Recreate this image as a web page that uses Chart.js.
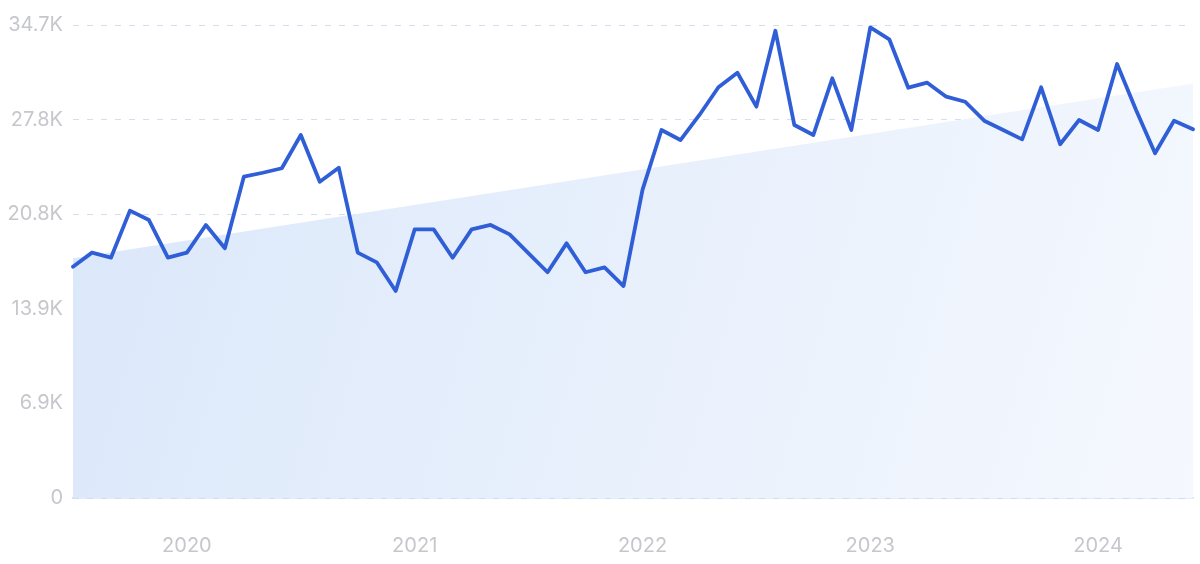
<!DOCTYPE html>
<html>
<head>
<meta charset="utf-8">
<script src="https://cdn.jsdelivr.net/npm/chart.js@4/dist/chart.umd.min.js"></script>
<style>
  html, body { margin: 0; padding: 0; background: #ffffff; }
  #wrap { width: 1200px; height: 564px; position: relative; }
</style>
</head>
<body>
<div id="wrap"><canvas id="c" width="1200" height="564"></canvas></div>
<script>
// Monthly categories, Jul 2019 .. Jun 2024
const months = [
  '2019-07','2019-08','2019-09','2019-10','2019-11','2019-12',
  '2020-01','2020-02','2020-03','2020-04','2020-05','2020-06','2020-07','2020-08','2020-09','2020-10','2020-11','2020-12',
  '2021-01','2021-02','2021-03','2021-04','2021-05','2021-06','2021-07','2021-08','2021-09','2021-10','2021-11','2021-12',
  '2022-01','2022-02','2022-03','2022-04','2022-05','2022-06','2022-07','2022-08','2022-09','2022-10','2022-11','2022-12',
  '2023-01','2023-02','2023-03','2023-04','2023-05','2023-06','2023-07','2023-08','2023-09','2023-10','2023-11','2023-12',
  '2024-01','2024-02','2024-03','2024-04','2024-05','2024-06'
];
// Search volume per month
const volume = [
  16970, 18000, 17630, 21080, 20390, 17630,
  18000, 20030, 18320, 23570, 23860, 24190, 26630, 23200, 24230, 18000, 17290, 15190,
  19710, 19710, 17630, 19710, 20030, 19340, 17950, 16560, 18680, 16560, 16920, 15550,
  22600, 27000, 26260, 28100, 30130, 31200, 28710, 34280, 27360, 26630, 30790, 27000,
  34530, 33650, 30100, 30470, 29440, 29070, 27680, 27000, 26310, 30130, 25950, 27730,
  27000, 31840, 28460, 25290, 27680, 27050
];
// Trend band: value at first and last month (others empty, spanned)
const trendStart = 17580;
const trendEnd = 30400;
const trend = months.map((m, i) => i === 0 ? trendStart : (i === months.length - 1 ? trendEnd : null));

// Y ticks
const yTickValues = [0, 6940, 13880, 20820, 27760, 34700];
const yTickLabels = ['0', '6.9K', '13.9K', '20.8K', '27.8K', '34.7K'];

const FONT = 'Inter, "Open Sans", sans-serif';
const LABEL_COLOR = '#c6c7cc';

const ctx = document.getElementById('c').getContext('2d');
new Chart(ctx, {
  type: 'line',
  data: {
    labels: months,
    datasets: [
      {
        data: volume,
        borderColor: '#2f5ed6',
        borderWidth: 3.8,
        borderJoinStyle: 'round',
        borderCapStyle: 'round',
        pointRadius: 0,
        tension: 0,
        fill: false,
        order: 0
      },
      {
        data: trend,
        spanGaps: true,
        borderWidth: 0,
        borderColor: 'rgba(0,0,0,0)',
        pointRadius: 0,
        tension: 0,
        fill: 'origin',
        order: 1,
        backgroundColor: (context) => {
          const area = context.chart.chartArea;
          if (!area) return 'rgba(220,233,250,1)';
          const g = context.chart.ctx.createLinearGradient(area.left, area.top + 150, area.right, area.bottom);
          g.addColorStop(0, 'rgb(219,232,250)');
          g.addColorStop(1, 'rgb(245,248,254)');
          return g;
        }
      }
    ]
  },
  options: {
    responsive: false,
    animation: false,
    events: [],
    layout: { padding: { top: 25, right: 7, left: 0, bottom: 0 } },
    plugins: { legend: { display: false }, tooltip: { enabled: false } },
    scales: {
      x: {
        type: 'category',
        offset: false,
        grid: { display: false, drawTicks: false },
        border: { display: true, color: '#c9d9f3', width: 1.5 },
        ticks: {
          autoSkip: false,
          maxRotation: 0,
          padding: 36,
          color: LABEL_COLOR,
          font: { family: FONT, size: 20 },
          callback: function(value, index) {
            const m = months[index];
            return m.endsWith('-01') ? m.slice(0, 4) : '';
          }
        },
        afterFit: (scale) => { scale.height = 66; scale.paddingLeft = 0; scale.paddingRight = 0; }
      },
      y: {
        min: 0,
        max: 34700,
        afterBuildTicks: (scale) => { scale.ticks = yTickValues.map(v => ({ value: v })); },
        grid: {
          color: '#d4def0',
          lineWidth: 1,
          drawTicks: false
        },
        border: { display: false, dash: [6, 8] },
        ticks: {
          padding: 10,
          color: LABEL_COLOR,
          font: { family: FONT, size: 20 },
          callback: function(value) {
            const i = yTickValues.indexOf(value);
            return i >= 0 ? yTickLabels[i] : '';
          }
        },
        afterFit: (scale) => { scale.width = 73; }
      }
    }
  }
});
</script>
</body>
</html>
